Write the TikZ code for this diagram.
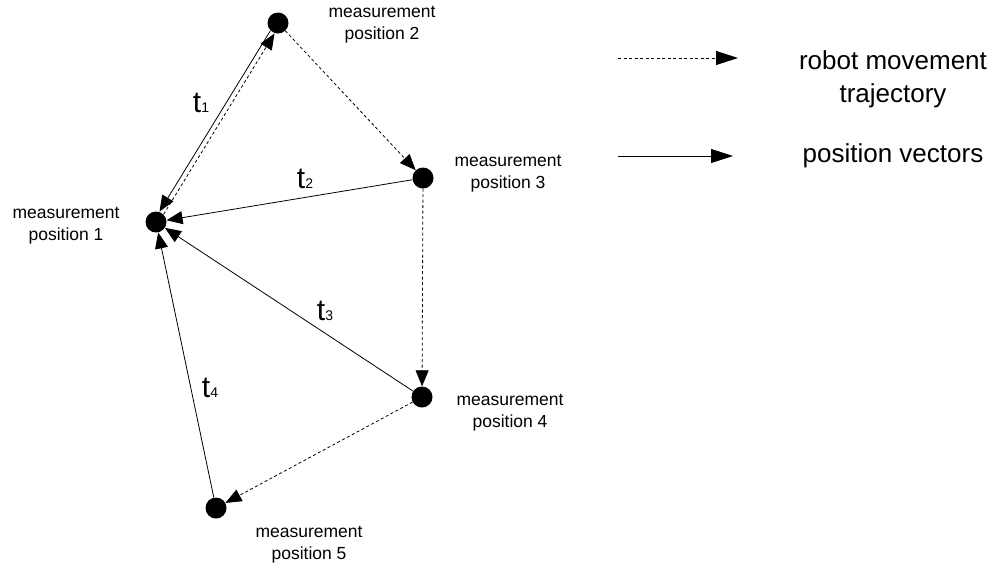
\documentclass[tikz,border=0pt]{standalone}
\usepackage{fontspec}
\setmainfont{Liberation Sans}
\usetikzlibrary{arrows.meta,calc}
\begin{document}
\begin{tikzpicture}[x=1pt,y=-1pt,
  dot/.style={circle,fill=black,inner sep=0pt,minimum size=21pt},
  lbl/.style={align=center,font=\fontsize{17.5}{22}\selectfont,inner sep=0pt},
  leg/.style={align=center,font=\fontsize{26}{33}\selectfont,inner sep=0pt},
  tl/.style={inner sep=0pt,font=\fontsize{30}{32}\selectfont},
  vec/.style={line width=0.8pt,-{Triangle[length=16pt,width=13pt]}},
  traj/.style={line width=0.8pt,dash pattern=on 3pt off 2.5pt,-{Triangle[length=16pt,width=13pt]}},
  legvec/.style={line width=0.8pt,-{Triangle[length=22pt,width=14pt]}},
  legtraj/.style={line width=0.8pt,dash pattern=on 3pt off 2.5pt,-{Triangle[length=22pt,width=14pt]}}]
\useasboundingbox (0,0) rectangle (1000,571);
\newcommand{\tsub}[1]{t\raisebox{0pt}{\fontsize{14}{14}\selectfont #1}}
% points
\node[dot] (p1) at (156,222) {};
\node[dot] (p2) at (278,23) {};
\node[dot] (p3) at (423,178) {};
\node[dot] (p4) at (422,397) {};
\node[dot] (p5) at (216,508) {};
% labels
\node[lbl] (l1) at (66,226) {measurement\\position 1};
\node[lbl] (l2) at (382,25) {measurement\\position 2};
\node[lbl] (l3) at (508,174) {measurement\\position 3};
\node[lbl] (l4) at (510,413) {measurement\\position 4};
\node[lbl] (l5) at (309,545) {measurement\\position 5};
% t labels
\node[tl] (t1) at (201,103) {\tsub{1}};
\node[tl] (t2) at (305,179) {\tsub{2}};
\node[tl] (t3) at (325,311) {\tsub{3}};
\node[tl] (t4) at (210,388) {\tsub{4}};
% position vectors
\draw[vec,transform canvas={xshift=-2.1pt,yshift=1.3pt}] (p2) -- (p1);
\draw[vec] (p3) -- (p1);
\draw[vec] (p4) -- (p1);
\draw[vec] (p5) -- (p1);
% trajectory
\draw[traj,transform canvas={xshift=2.1pt,yshift=-1.3pt}] (p1) -- (p2);
\draw[traj] (p2) -- (p3);
\draw[traj] (p3) -- (p4);
\draw[traj] (p4) -- (p5);
% legend
\coordinate (a1) at (618,58);
\coordinate (a2) at (738,58);
\coordinate (b1) at (618,156);
\coordinate (b2) at (733,156);
\draw[legtraj] (a1) -- (a2);
\draw[legvec] (b1) -- (b2);
\node[leg] (lt) at (893,79) {robot movement\\trajectory};
\node[leg] (lv) at (893,156) {position vectors};
\end{tikzpicture}
\end{document}
